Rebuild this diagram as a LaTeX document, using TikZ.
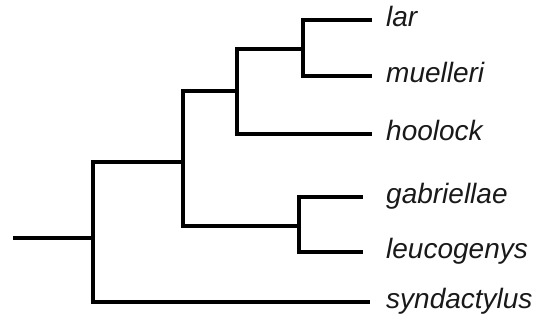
\documentclass[tikz,border=0pt]{standalone}
\usepackage{fontspec}
\setmainfont{Liberation Sans}
\begin{document}
\begin{tikzpicture}[x=1pt,y=-1pt,
  branch/.style={line width=3.4pt,black,line join=miter,line cap=rect},
  taxon/.style={anchor=base west,inner sep=0pt,font=\fontsize{28}{32}\selectfont\itshape,text=black!90}]
\useasboundingbox (0,0) rectangle (542,320);
% internal nodes
\coordinate (root) at (15,238);
\coordinate (n1) at (93,238);
\coordinate (n2) at (183,162);
\coordinate (n3) at (237,91);
\coordinate (n4) at (303,49);
\coordinate (n5) at (299,226);
% tips
\coordinate (tlar) at (370,20);
\coordinate (tmue) at (370,76);
\coordinate (thoo) at (370,134);
\coordinate (tgab) at (361,197);
\coordinate (tleu) at (361,252);
\coordinate (tsyn) at (368,302);
% labels
\node[taxon] (lar) at (386,27) {lar};
\node[taxon] (mue) at (386,83) {muelleri};
\node[taxon] (hoo) at (386,141) {hoolock};
\node[taxon] (gab) at (386,204) {gabriellae};
\node[taxon] (leu) at (386,259) {leucogenys};
\node[taxon] (syn) at (386,309) {syndactylus};
% branches
\draw[branch] (tlar) -| (n4) |- (tmue);
\draw[branch] (n4) -| (n3) |- (thoo);
\draw[branch] (tgab) -| (n5) |- (tleu);
\draw[branch] (n3) -| (n2) |- (n5);
\draw[branch] (n2) -| (n1) |- (tsyn);
\draw[branch] (root) -- (n1);
\end{tikzpicture}
\end{document}
